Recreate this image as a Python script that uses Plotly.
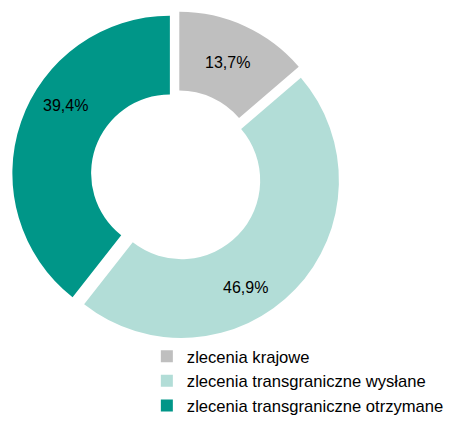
import plotly.graph_objects as go

categories = ["zlecenia krajowe", "zlecenia transgraniczne wysłane", "zlecenia transgraniczne otrzymane"]
values = [13.7, 46.9, 39.4]
labels_text = ["13,7%", "46,9%", "39,4%"]
colors = ["#BFBFBF", "#B2DDD7", "#009688"]

# label anchor positions (paper coords), as placed in the original chart
label_pos = [(230 / 449, 1 - 64 / 423), (248 / 449, 1 - 293 / 423), (66 / 449, 1 - 108 / 423)]

fig = go.Figure(go.Pie(
    labels=categories,
    values=values,
    textinfo="none",
    marker=dict(colors=colors, line=dict(width=0)),
    hole=0.5,
    pull=0.044,
    sort=False,
    direction="clockwise",
    rotation=0,
    domain=dict(x=[0.0232, 0.7697], y=[0.1806, 0.9730]),
    hoverinfo="skip",
))

for txt, (px, py) in zip(labels_text, label_pos):
    fig.add_annotation(
        x=px, y=py, xref="paper", yref="paper",
        text=txt, showarrow=False,
        xanchor="center", yanchor="middle",
        font=dict(family="Liberation Sans, Arial", size=16, color="#000000"),
    )

fig.update_layout(
    width=449, height=423,
    margin=dict(l=0, r=0, t=0, b=0),
    paper_bgcolor="white",
    plot_bgcolor="white",
    showlegend=True,
    legend=dict(
        x=0.33, y=0.183, xanchor="left", yanchor="top",
        font=dict(family="Liberation Sans, Arial", size=16.6, color="#000000"),
        bgcolor="rgba(0,0,0,0)",
    ),
)

fig.write_html("out.html", config={"displayModeBar": False},
               post_script="document.body.style.margin='0';")
